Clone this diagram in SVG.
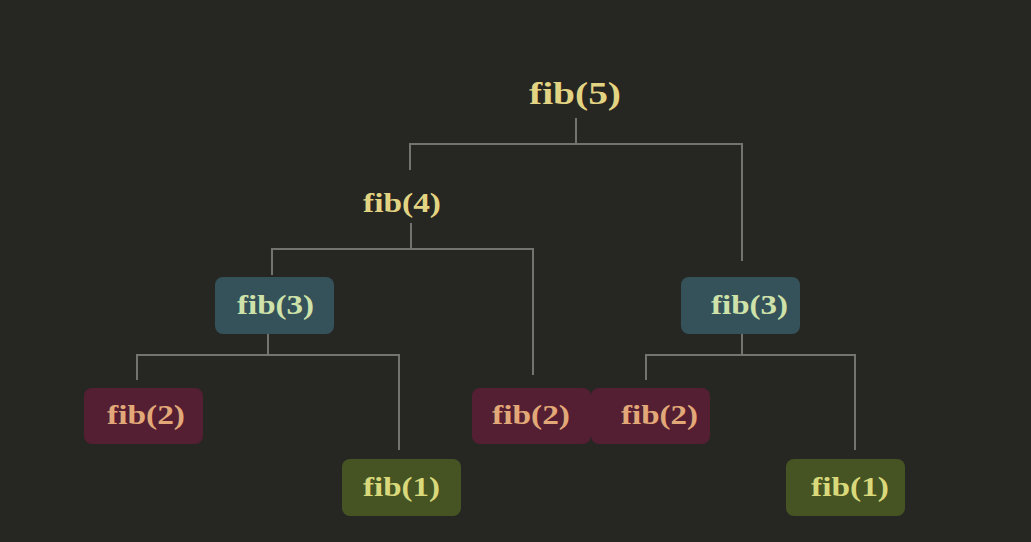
<svg xmlns="http://www.w3.org/2000/svg" width="1031" height="542" viewBox="0 0 1031 542">
<style>
.t{font-family:"Liberation Serif","DejaVu Serif",serif;font-weight:bold;text-anchor:middle}
.top{fill:#e3d483}
.c3{fill:#35525a}.c3t{fill:#cfe2aa}
.c2{fill:#541f33}.c2t{fill:#e2a878}
.c1{fill:#465423}.c1t{fill:#d9d97c}
.ln{stroke:#737370;stroke-width:2;fill:none}
</style>
<rect width="1031" height="542" fill="#262622"/>
<g id="connectors">
<path class="ln" d="M576 118V144M410 170V144H742V261"/>
<path class="ln" d="M411 223V249M272 275V249H533V375"/>
<path class="ln" d="M268 328V355M137 380V355H399V450"/>
<path class="ln" d="M742 329V355M646 380V355H855V450"/>
</g>
<g id="fib5"><text class="t top" x="575" y="104" font-size="32" textLength="92" lengthAdjust="spacingAndGlyphs">fib(5)</text></g>
<g id="fib4"><text class="t top" x="402" y="212" font-size="27" textLength="78" lengthAdjust="spacingAndGlyphs">fib(4)</text></g>
<g id="fib3a"><rect class="c3" x="215" y="277" width="119" height="57" rx="8"/><text class="t c3t" x="275.5" y="314" font-size="27" textLength="77" lengthAdjust="spacingAndGlyphs">fib(3)</text></g>
<g id="fib3b"><rect class="c3" x="681" y="277" width="119" height="57" rx="8"/><text class="t c3t" x="749.5" y="314" font-size="27" textLength="77" lengthAdjust="spacingAndGlyphs">fib(3)</text></g>
<g id="fib2a"><rect class="c2" x="84" y="388" width="119" height="56" rx="8"/><text class="t c2t" x="146" y="424" font-size="27" textLength="78" lengthAdjust="spacingAndGlyphs">fib(2)</text></g>
<g id="fib2b"><rect class="c2" x="472" y="388" width="119" height="56" rx="8"/><text class="t c2t" x="531" y="424" font-size="27" textLength="78" lengthAdjust="spacingAndGlyphs">fib(2)</text></g>
<g id="fib2c"><rect class="c2" x="591" y="388" width="119" height="56" rx="8"/><text class="t c2t" x="659.5" y="424" font-size="27" textLength="77" lengthAdjust="spacingAndGlyphs">fib(2)</text></g>
<g id="fib1a"><rect class="c1" x="342" y="459" width="119" height="57" rx="8"/><text class="t c1t" x="401.5" y="496" font-size="27" textLength="77" lengthAdjust="spacingAndGlyphs">fib(1)</text></g>
<g id="fib1b"><rect class="c1" x="786" y="459" width="119" height="57" rx="8"/><text class="t c1t" x="850" y="496" font-size="27" textLength="78" lengthAdjust="spacingAndGlyphs">fib(1)</text></g>
</svg>
